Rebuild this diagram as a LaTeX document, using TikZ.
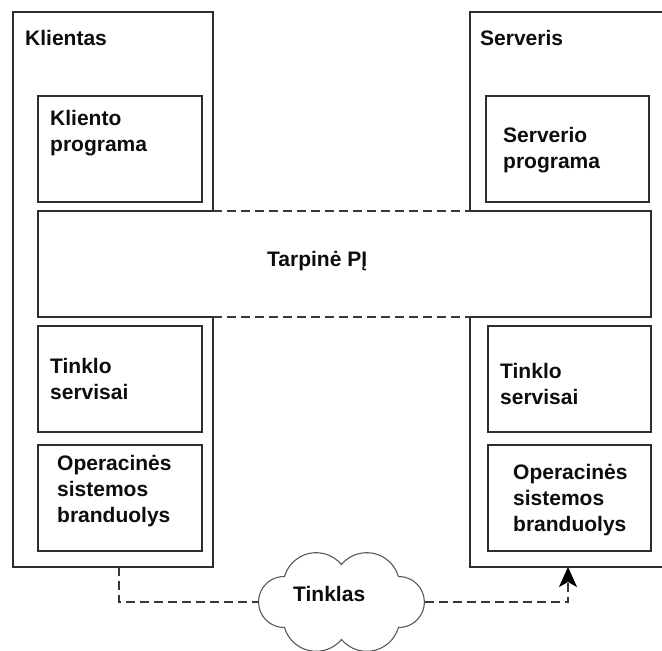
\documentclass[tikz,border=0pt]{standalone}
\usepackage{fontspec}
\setmainfont{Liberation Sans}
\usetikzlibrary{arrows.meta}
\begin{document}
\begin{tikzpicture}[x=1pt,y=-1pt,
  frame/.style={draw=black!82,line width=1.8pt,fill=white,inner sep=0pt,outer sep=0pt},
  edge/.style={draw=black!82,line width=1.8pt},
  lbl/.style={font=\fontsize{21}{26}\selectfont\bfseries,align=left,inner sep=0pt,anchor=base west,text=black!95},
  link/.style={draw=black!78,line width=1.8pt,dash pattern=on 9pt off 5pt}]
\useasboundingbox (0,0) rectangle (662,651);
\clip (0,0) rectangle (662,651);

% outer hosts
\node[frame,minimum width=200pt,minimum height=555pt] (cli) at (113,289.5) {};
\node[frame,minimum width=196pt,minimum height=555pt] (srv) at (568,289.5) {};

% application boxes
\node[frame,minimum width=164pt,minimum height=106pt] (cprog) at (120,149) {};
\node[frame,minimum width=163pt,minimum height=106pt] (sprog) at (567.5,149) {};

% middleware band spanning both hosts
\node[fill=white,inner sep=0pt,outer sep=0pt,minimum width=613pt,minimum height=106pt] (mid) at (344.5,264) {};
\draw[edge] (mid.north -| cli.east) -- (mid.north west) -- (mid.south west) -- (mid.south -| cli.east);
\draw[edge] (mid.north -| srv.west) -- (mid.north east) -- (mid.south east) -- (mid.south -| srv.west);
\draw[link] (mid.north -| cli.east) -- (mid.north -| srv.west);
\draw[link] (mid.south -| cli.east) -- (mid.south -| srv.west);

% network services and kernel
\node[frame,minimum width=164pt,minimum height=106pt] (cnet) at (120,379) {};
\node[frame,minimum width=163pt,minimum height=106pt] (snet) at (569.5,379) {};
\node[frame,minimum width=164pt,minimum height=106pt] (cos) at (120,498) {};
\node[frame,minimum width=163pt,minimum height=106pt] (sos) at (569.5,498) {};

% network cloud: a placeholder node carries the anchors, the outline is drawn from arcs
\node[inner sep=0pt,outer sep=0pt,minimum width=166pt,minimum height=98pt] (net) at (341.5,602) {};
\begin{scope}[shift={(net.center)},y=1pt]
  \draw[draw=black!65,line width=1.1pt,fill=white]
    (-57,25.5) arc[start angle=163.8,end angle=40,radius=33]
               arc[start angle=140,end angle=16.2,radius=33]
               arc[start angle=91,end angle=-91,radius=25.5]
               arc[start angle=-16.2,end angle=-140,radius=33]
               arc[start angle=-40,end angle=-163.8,radius=33]
               arc[start angle=-89,end angle=-271,radius=25.5] -- cycle;
\end{scope}

% connection through the network
\draw[link] ([xshift=6pt]cli.south) |- (net.west);
\draw[link,-{Stealth[length=20pt,width=18pt,inset=5pt,color=black]}] (net.east) -| (srv.south);

% labels
\node[lbl] (tcli) at (25,45.7) {Klientas};
\node[lbl] (tsrv) at (480,45) {Serveris};
\node[lbl] (tcprog) at (50,151) {Kliento\\programa};
\node[lbl] (tsprog) at (503,168) {Serverio\\programa};
\node[lbl] (tmid) at (267,266.7) {Tarpinė PĮ};
\node[lbl] (tcnet) at (50,399) {Tinklo\\servisai};
\node[lbl] (tsnet) at (500,404) {Tinklo\\servisai};
\node[lbl] (tcos) at (57,522) {Operacinės\\sistemos\\branduolys};
\node[lbl] (tsos) at (513,531) {Operacinės\\sistemos\\branduolys};
\node[lbl] (tnet) at (293,601.7) {Tinklas};
\end{tikzpicture}
\end{document}
